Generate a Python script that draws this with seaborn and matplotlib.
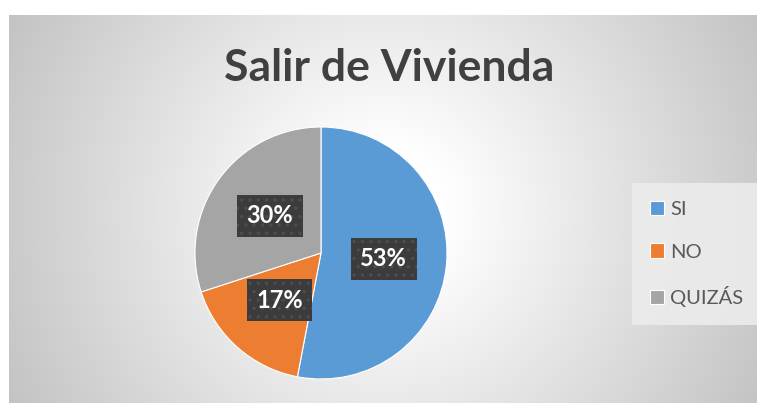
import numpy as np
import seaborn as sns
import matplotlib.pyplot as plt

# Data
categories = ['SI', 'NO', 'QUIZÁS']
values = [53, 17, 30]
colors = ['#5B9BD5', '#ED7D31', '#A5A5A5']
title = 'Salir de Vivienda'

sns.set_theme(style='white')
plt.rcParams['font.family'] = ['Lato', 'DejaVu Sans']
plt.rcParams['hatch.linewidth'] = 1.2

W, H = 757, 403
fig = plt.figure(figsize=(W / 100, H / 100), dpi=100)
fig.patch.set_facecolor('white')

# Chart area background: radial grey gradient (Excel style)
bg = fig.add_axes([9 / W, 0, (W - 9) / W, (H - 15) / H])
yy, xx = np.mgrid[15:H, 9:W]
d = np.hypot(xx - 385, yy - 210)
shade = np.clip(255 - np.maximum(d - 60, 0) * 0.165, 190, 255) / 255
bg.imshow(np.dstack([shade] * 3), aspect='auto', extent=(0, 1, 0, 1))
bg.axis('off')

# Pie
cx, cy, r = 321, 253, 126
ax = fig.add_axes([(cx - r) / W, (H - cy - r) / H, 2 * r / W, 2 * r / H])
palette = sns.color_palette(colors)
wedges, texts, autotexts = ax.pie(
    values, colors=palette, startangle=90, counterclock=False,
    autopct='%1.0f%%', pctdistance=0.5,
    wedgeprops=dict(edgecolor='white', linewidth=0.8),
    textprops=dict(color='white', fontsize=17, fontweight='bold'))
for t in autotexts:
    t.set_bbox(dict(boxstyle='square,pad=0.4', facecolor='#3c3c3c',
                    edgecolor='#4e4e4e', linewidth=0, hatch='..'))
ax.set_xlim(-1, 1)
ax.set_ylim(-1, 1)
ax.set_aspect('equal')
ax.axis('off')

fig.text(389 / W, 1 - 68 / H, title, ha='center', va='center',
         fontsize=32, fontweight='bold', color='#404040')

leg = fig.legend(wedges, categories, loc='center left',
                 bbox_to_anchor=(632 / W, 1 - 254 / H),
                 frameon=True, fancybox=False, fontsize=14.5,
                 handlelength=0.7, handleheight=0.7, handletextpad=0.3,
                 labelspacing=1.25, borderpad=0.9, borderaxespad=0)
leg.get_frame().set_facecolor('#ececec')
leg.get_frame().set_edgecolor('none')
leg.get_frame().set_alpha(0.9)
for t in leg.get_texts():
    t.set_color('#595959')

fig.savefig('out.png', dpi=100)
